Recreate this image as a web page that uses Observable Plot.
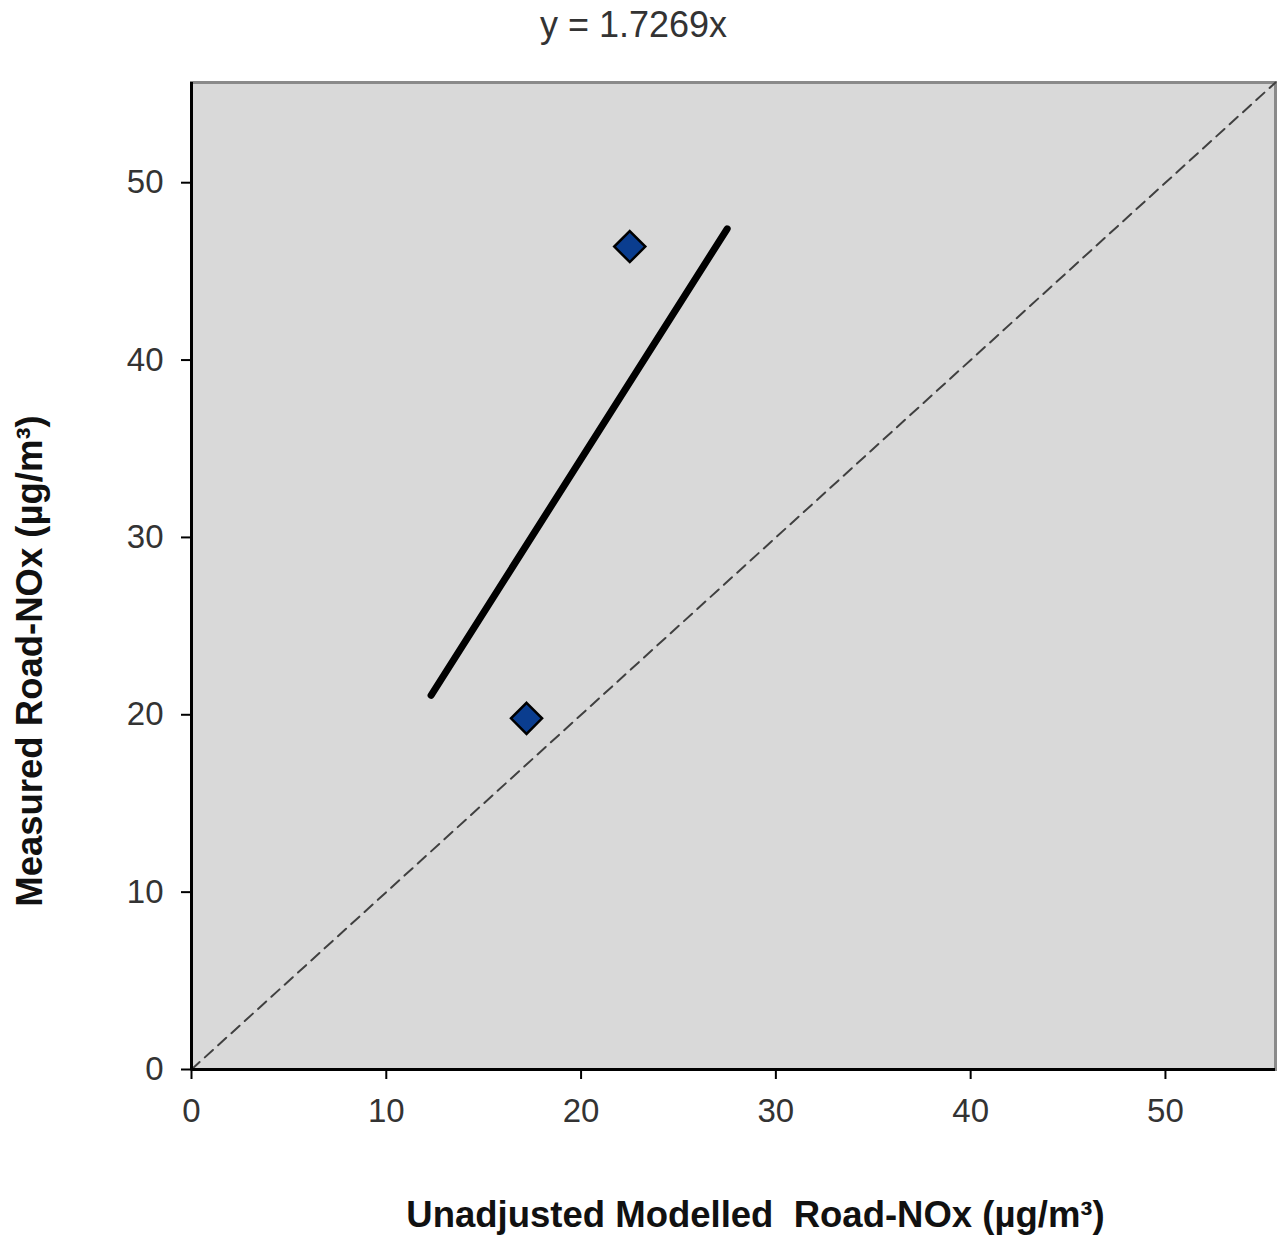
<!DOCTYPE html>
<html>
<head>
<meta charset="utf-8">
<script src="https://cdn.jsdelivr.net/npm/d3@7"></script>
<script src="https://cdn.jsdelivr.net/npm/@observablehq/plot@0.6"></script>
<style>
  html, body { margin: 0; padding: 0; background: #fff; }
  svg text { white-space: pre; }
</style>
</head>
<body>
<div id="chart"></div>
<script>
// Data
const modelled = [17.2, 22.5];          // Unadjusted modelled road-NOx
const measured = [19.8, 46.4];          // Measured road-NOx
const trendX = [12.3, 27.5];            // fitted line extent
const trendY = [21.1, 47.4];
const oneToOne = [0, 55.65];            // 1:1 reference line
const ticks = [0, 10, 20, 30, 40, 50];
const equation = "y = 1.7269x";
const xLabel = "Unadjusted Modelled\u00a0 Road-NOx (µg/m³)";
const yLabel = "Measured Road-NOx (µg/m³)";

const points = modelled.map((x, i) => ({x, y: measured[i]}));
const trend = trendX.map((x, i) => ({x, y: trendY[i]}));
const diag = oneToOne.map(v => ({x: v, y: v}));

const font = "Liberation Sans, Arial, sans-serif";

const chart = Plot.plot({
  width: 1279,
  height: 1241,
  marginLeft: 191,
  marginRight: 4,
  marginTop: 82,
  marginBottom: 172,
  style: {fontFamily: font, background: "#fff", color: "#222"},
  x: {domain: [0, 55.65]},
  y: {domain: [0, 55.65]},
  marks: [
    Plot.frame({fill: "#d9d9d9", stroke: "#8a8a8a", strokeWidth: 3}),
    Plot.line(diag, {x: "x", y: "y", stroke: "#404040", strokeWidth: 2, strokeDasharray: "11,7"}),
    Plot.line(trend, {x: "x", y: "y", stroke: "#000", strokeWidth: 7, strokeLinecap: "round"}),
    Plot.dot(points, {x: "x", y: "y", symbol: "diamond2", r: 14, fill: "#0a3d8f", stroke: "#000", strokeWidth: 2.5}),
    Plot.ruleX([0], {stroke: "#000", strokeWidth: 3}),
    Plot.ruleY([0], {stroke: "#000", strokeWidth: 3}),
    Plot.axisX({ticks, tickSize: 10, tickPadding: 19, fontSize: 33, stroke: "#000", strokeWidth: 2, color: "#333", label: null}),
    Plot.axisY({ticks, tickSize: 10, tickPadding: 18, fontSize: 33, stroke: "#000", strokeWidth: 2, color: "#333", label: null}),
    Plot.text([equation], {frameAnchor: "top", text: d => d, dx: -100, dy: -57, fontSize: 36, fill: "#333", lineAnchor: "middle"}),
    Plot.text([xLabel], {frameAnchor: "bottom", text: d => d, dx: 22, dy: 146, fontSize: 36.5, fontWeight: "bold", fill: "#111", lineAnchor: "middle", textAnchor: "middle"}),
    Plot.text([yLabel], {frameAnchor: "left", text: d => d, dx: -161, dy: 85, rotate: -90, fontSize: 36.5, fontWeight: "bold", fill: "#111", lineAnchor: "middle", textAnchor: "middle"})
  ]
});
document.getElementById("chart").appendChild(chart);
</script>
</body>
</html>
